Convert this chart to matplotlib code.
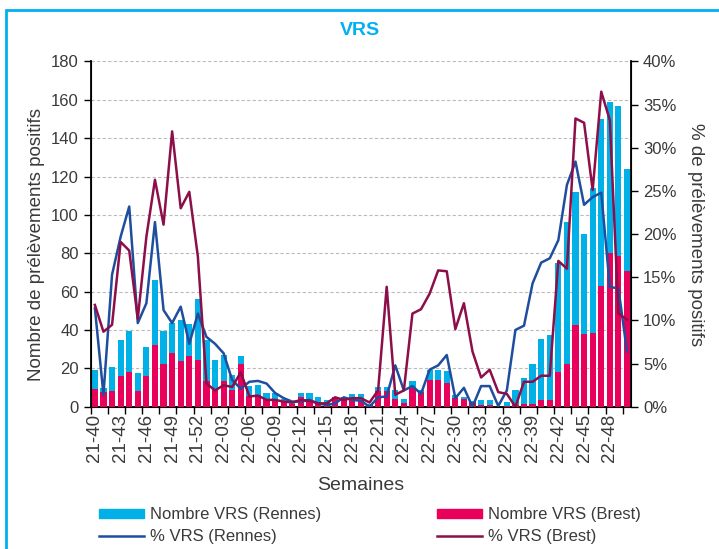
import numpy as np
import matplotlib
matplotlib.use('Agg')
import matplotlib.pyplot as plt
from matplotlib.patches import Rectangle
from matplotlib.lines import Line2D
from matplotlib.ticker import FixedLocator, PercentFormatter

plt.rcParams['font.family'] = ['Liberation Sans', 'DejaVu Sans']

# weeks 21-40 .. 21-52, 22-01 .. 22-50
weeks = ['21-%02d' % w for w in range(40, 53)] + ['22-%02d' % w for w in range(1, 51)]

# number of positive samples
rennes_n = [19, 10, 20.5, 35, 39.5, 17.5, 31, 66, 39.5, 43.5, 45.5, 43, 56,
            35, 24.5, 27, 16.5, 26.5, 11, 11.5, 7.3, 7.3, 4.3, 3, 7.3, 7.3,
            5.2, 3.5, 4, 5.2, 6.6, 6.6, 1.5, 10.4, 10.4, 9, 4, 13.4, 9, 19,
            19, 18.5, 6, 5, 3, 3.5, 3.5, 0, 2.5, 9, 15, 22.5, 35.5, 37.5,
            75, 96.5, 112, 90, 114, 150, 159, 157, 124]
brest_n = [9.2, 7.8, 8, 16.2, 18.3, 8.2, 16.2, 32.2, 22.3, 28.2, 23.7, 26.3, 24.2,
           13.4, 8.7, 13.4, 8.7, 22.3, 5.5, 6, 4.3, 3, 2.6, 1.7, 5.2, 3,
           2.6, 2, 4.9, 4.3, 4.3, 3.8, 0.8, 8, 8, 4.3, 2, 10, 7.8, 14,
           14, 12.2, 4.8, 4, 2.5, 1, 1, 0, 0.5, 0.8, 1.4, 1.4, 3.5, 3.5,
           18.3, 22.5, 42.5, 37.8, 38.3, 63, 80, 78.6, 71]

# percentage of positive samples
rennes_pct = [11.4, 1.4, 15.3, 19.7, 23.2, 9.7, 12, 21.4, 11.2, 9.7, 11.6, 7.3, 10.8,
              8.1, 7.3, 6.2, 3.1, 2.1, 2.9, 3.0, 2.7, 1.6, 1.0, 0.6, 0.6, 0.8,
              0.4, 0.2, 0.4, 1.1, 0.8, 0.7, 0, 1.1, 1.2, 4.8, 1.9, 2.4, 1.5, 4.3,
              4.8, 6.0, 1.0, 2.2, 0, 2.4, 2.4, 0.1, 1.9, 8.9, 9.4, 14.3, 16.7, 17.2,
              19.3, 25.7, 28.4, 23.4, 24.3, 24.8, 13.9, 13.7, 6.4]
brest_pct = [11.8, 8.7, 9.5, 19.1, 18.1, 10.2, 19.7, 26.3, 21.1, 31.9, 23, 24.9, 17.4,
             2.7, 1.9, 2.5, 2.3, 4.0, 1.2, 1.3, 0.8, 0.8, 0.6, 0.5, 0.8, 0.7,
             0.4, 0.4, 1.1, 0.8, 1.0, 1.0, 0.5, 1.9, 13.9, 1.4, 1.9, 10.8, 11.3, 13.1,
             15.8, 15.7, 9.0, 12.0, 6.4, 3.4, 4.3, 1.7, 1.5, 0, 2.9, 2.9, 3.6, 3.6,
             16.9, 16.0, 33.4, 32.9, 25.1, 36.5, 33.2, 10.8, 10.1]

c_rennes_bar = '#00B0E6'
c_brest_bar = '#E8005A'
c_rennes_line = '#1F4E9E'
c_brest_line = '#8C0F4A'
txt = '#3A3A3A'

x = np.arange(len(weeks))

fig = plt.figure(figsize=(7.19, 5.49), dpi=100)
ax = fig.add_axes([0.126, 0.259, 0.752, 0.629])

ax.bar(x, rennes_n, width=0.72, color=c_rennes_bar, zorder=2)
ax.bar(x, brest_n, width=0.72, color=c_brest_bar, zorder=3)
ax.set_xlim(-0.5, len(weeks) - 0.5)
ax.set_ylim(0, 180)
ax.set_yticks(range(0, 181, 20))
ax.yaxis.grid(True, linestyle=(0, (3, 2)), color='#BBBBBB', linewidth=0.8, zorder=0)
ax.set_axisbelow(True)

ax.set_xticks(x[::3])
ax.set_xticklabels(weeks[::3], rotation=90)
ax.xaxis.set_minor_locator(FixedLocator(np.arange(-0.5, len(weeks), 2)))
ax.tick_params(axis='x', which='major', length=0, pad=5, labelsize=13.5, labelcolor=txt)
ax.tick_params(axis='x', which='minor', length=5, width=1, direction='out')
ax.tick_params(axis='y', length=5, width=1, labelsize=12, labelcolor=txt)

ax.set_ylabel('Nombre de prélèvements positifs', fontsize=13.5, color=txt)
ax.yaxis.set_label_coords(-0.085, 0.47)
ax.set_xlabel('Semaines', fontsize=14, color=txt, labelpad=11)

ax.spines['top'].set_visible(False)
ax.spines['left'].set_linewidth(1.3)
ax.spines['bottom'].set_linewidth(1.3)

ax2 = ax.twinx()
ax2.plot(x, rennes_pct, color=c_rennes_line, linewidth=1.8, zorder=4)
ax2.plot(x, brest_pct, color=c_brest_line, linewidth=1.8, zorder=5)
ax2.set_ylim(0, 40)
ax2.set_yticks(range(0, 41, 5))
ax2.yaxis.set_major_formatter(PercentFormatter(decimals=0))
ax2.tick_params(axis='y', length=5, width=1, labelsize=12, labelcolor=txt)
ax2.set_ylabel('% de prélèvements positifs', fontsize=13.5, color=txt,
               rotation=270, labelpad=20)
ax2.spines['top'].set_visible(False)
ax2.spines['right'].set_linewidth(1.3)

fig.text(0.5, 0.945, 'VRS', ha='center', va='center', fontsize=14,
         fontweight='bold', color='#00B0F0')

# frame around the chart
fig.patches.append(Rectangle((6 / 719, -0.1), 1.2, 1 - 10 / 549 + 0.1,
                             transform=fig.transFigure, fill=False,
                             edgecolor='#00B0F0', linewidth=2))

handles = [Rectangle((0, 0), 1, 1, color=c_rennes_bar),
           Line2D([], [], color=c_rennes_line, linewidth=1.8),
           Rectangle((0, 0), 1, 1, color=c_brest_bar),
           Line2D([], [], color=c_brest_line, linewidth=1.8)]
labels = ['Nombre VRS (Rennes)', '% VRS (Rennes)',
          'Nombre VRS (Brest)', '% VRS (Brest)']
leg = fig.legend(handles, labels, ncol=2, loc='upper left',
                 bbox_to_anchor=(0.128, 0.088), frameon=False, fontsize=12,
                 handlelength=2.7, handleheight=0.4, handletextpad=0.35,
                 columnspacing=7.0, labelspacing=0.42, borderaxespad=0)
for t in leg.get_texts():
    t.set_color(txt)

fig.savefig('out.png', dpi=100)
